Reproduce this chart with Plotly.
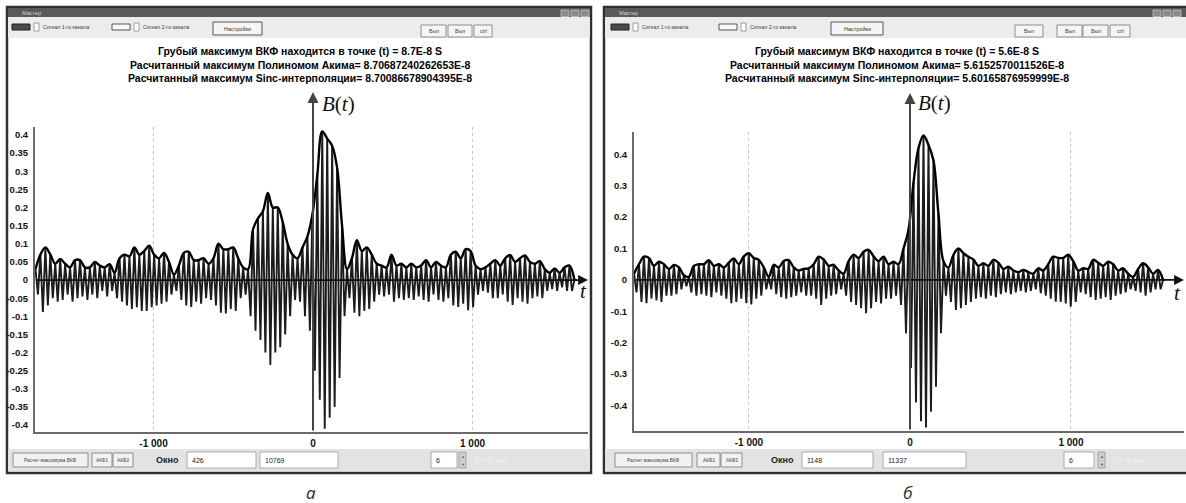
import numpy as np
import plotly.graph_objects as go

W, H = 1186, 503


def X(px):
    return px / W


def Y(py):
    return 1 - py / H


# ---------------- data ----------------
# panel a: carrier peaks, one positive and one negative per cycle
a_t0 = -1740
a_step = 31
a_pos = [0.03, 0.07, 0.09, 0.07, 0.045, 0.058, 0.045, 0.035, 0.055, 0.055,
         0.035, 0.035, 0.05, 0.04, 0.035, 0.044, 0.02, 0.06, 0.07, 0.065,
         0.09, 0.07, 0.08, 0.095, 0.07, 0.06, 0.075, 0.05, 0.015, 0.04,
         0.075, 0.078, 0.055, 0.055, 0.06, 0.045, 0.06, 0.1, 0.085, 0.085,
         0.09, 0.06, 0.035, 0.03, 0.14, 0.17, 0.19, 0.24, 0.2, 0.2,
         0.16, 0.1, 0.07, 0.06, 0.09, 0.12, 0.18, 0.29, 0.41, 0.39,
         0.37, 0.31, 0.15, 0.03, 0.06, 0.11, 0.08, 0.09, 0.07, 0.045,
         0.04, 0.035, 0.07, 0.04, 0.045, 0.035, 0.045, 0.035, 0.04, 0.055,
         0.035, 0.05, 0.04, 0.035, 0.07, 0.078, 0.06, 0.085, 0.08, 0.04,
         0.03, 0.035, 0.045, 0.055, 0.04, 0.06, 0.069, 0.05, 0.06, 0.068,
         0.05, 0.045, 0.052, 0.03, 0.02, 0.032, 0.02, 0.035, 0.04, 0.0]
a_neg = [-0.04, -0.088, -0.07, -0.05, -0.06, -0.055, -0.04, -0.06, -0.05, -0.045,
         -0.055, -0.04, -0.05, -0.03, -0.045, -0.03, -0.05, -0.06, -0.07, -0.08,
         -0.075, -0.085, -0.085, -0.075, -0.07, -0.065, -0.06, -0.04, -0.03, -0.055,
         -0.07, -0.074, -0.06, -0.065, -0.05, -0.055, -0.07, -0.09, -0.092, -0.08,
         -0.085, -0.05, -0.04, -0.1, -0.14, -0.165, -0.2, -0.234, -0.2, -0.185,
         -0.15, -0.1, -0.055, -0.06, -0.1, -0.14, -0.25, -0.33, -0.41, -0.38,
         -0.35, -0.27, -0.1, -0.05, -0.09, -0.1, -0.085, -0.08, -0.06, -0.04,
         -0.045, -0.04, -0.06, -0.05, -0.055, -0.05, -0.055, -0.045, -0.055, -0.06,
         -0.04, -0.055, -0.06, -0.05, -0.07, -0.074, -0.065, -0.083, -0.075, -0.04,
         -0.03, -0.035, -0.05, -0.05, -0.04, -0.06, -0.069, -0.05, -0.06, -0.065,
         -0.05, -0.045, -0.05, -0.03, -0.025, -0.03, -0.02, -0.03, -0.03, 0.0]

# panel b
b_t0 = -1714
b_step = 31
b_pos = [0.02, 0.05, 0.074, 0.07, 0.045, 0.058, 0.05, 0.035, 0.048, 0.04,
         0.015, 0.01, 0.045, 0.05, 0.05, 0.063, 0.045, 0.05, 0.04, 0.055,
         0.068, 0.05, 0.075, 0.085, 0.07, 0.064, 0.04, 0.01, 0.048, 0.04,
         0.06, 0.063, 0.04, 0.03, 0.035, 0.037, 0.05, 0.074, 0.065, 0.045,
         0.048, 0.03, 0.02, 0.06, 0.08, 0.07, 0.09, 0.096, 0.075, 0.06,
         0.074, 0.05, 0.058, 0.05, 0.1, 0.16, 0.31, 0.42, 0.46, 0.43,
         0.38, 0.21, 0.06, 0.04, 0.08, 0.1, 0.085, 0.074, 0.065, 0.045,
         0.053, 0.045, 0.064, 0.055, 0.035, 0.042, 0.03, 0.025, 0.032, 0.025,
         0.02, 0.037, 0.03, 0.05, 0.074, 0.07, 0.07, 0.08, 0.06, 0.03,
         0.037, 0.035, 0.064, 0.055, 0.045, 0.058, 0.05, 0.03, 0.037, 0.02,
         0.01, 0.035, 0.053, 0.04, 0.02, 0.032, 0.0]
b_neg = [-0.04, -0.07, -0.074, -0.06, -0.065, -0.07, -0.05, -0.05, -0.045, -0.03,
         -0.02, -0.04, -0.05, -0.045, -0.05, -0.055, -0.04, -0.05, -0.06, -0.074,
         -0.07, -0.06, -0.074, -0.078, -0.06, -0.05, -0.03, -0.03, -0.045, -0.055,
         -0.06, -0.055, -0.05, -0.04, -0.05, -0.05, -0.06, -0.08, -0.06, -0.05,
         -0.045, -0.03, -0.05, -0.07, -0.08, -0.09, -0.106, -0.09, -0.07, -0.075,
         -0.06, -0.06, -0.05, -0.08, -0.17, -0.28, -0.39, -0.45, -0.47, -0.42,
         -0.34, -0.17, -0.05, -0.07, -0.096, -0.09, -0.08, -0.07, -0.06, -0.055,
         -0.06, -0.05, -0.055, -0.045, -0.04, -0.045, -0.04, -0.035, -0.04, -0.035,
         -0.03, -0.042, -0.05, -0.06, -0.069, -0.07, -0.075, -0.085, -0.07, -0.04,
         -0.045, -0.055, -0.064, -0.06, -0.055, -0.064, -0.05, -0.045, -0.04, -0.03,
         -0.035, -0.04, -0.05, -0.04, -0.03, -0.03, 0.0]

x_tickvals = [-1000, 0, 1000]
x_ticktext = ["-1 000", "0", "1 000"]
a_ytickvals = [0.4, 0.35, 0.3, 0.25, 0.2, 0.15, 0.1, 0.05, 0, -0.05, -0.1,
               -0.15, -0.2, -0.25, -0.3, -0.35, -0.4]
a_yticktext = ["0.4", "0.35", "0.3", "0.25", "0.2", "0.15", "0.1", "0.05", "0",
               "-0.05", "-0.1", "-0.15", "-0.2", "-0.25", "-0.3", "-0.35", "-0.4"]
b_ytickvals = [0.4, 0.3, 0.2, 0.1, 0, -0.1, -0.2, -0.3, -0.4]
b_yticktext = ["0.4", "0.3", "0.2", "0.1", "0", "-0.1", "-0.2", "-0.3", "-0.4"]

a_header = ["Грубый максимум ВКФ находится в точке (t) = 8.7E-8 S",
            "Расчитанный максимум Полиномом Акима= 8.70687240262653E-8",
            "Расчитанный максимум Sinc-интерполяции= 8.70086678904395E-8"]
b_header = ["Грубый максимум ВКФ находится в точке (t) = 5.6E-8 S",
            "Расчитанный максимум Полиномом Акима= 5.6152570011526E-8",
            "Расчитанный максимум Sinc-интерполяции= 5.60165876959999E-8"]
a_fields = ["426", "10769", "6"]
b_fields = ["1148", "11337", "6"]

# ---------------- figure ----------------
fig = go.Figure()
UI = "Liberation Sans"
SERIF = "Liberation Serif"


def add_signal(t0, step, pos, neg, xa, ya):
    n = len(pos)
    t = t0 + step * np.arange(n)
    xs = np.empty(2 * n)
    ys = np.empty(2 * n)
    xs[0::2] = t
    xs[1::2] = t + step / 2
    ys[0::2] = pos
    ys[1::2] = neg
    fig.add_trace(go.Scatter(x=xs, y=ys, mode="lines",
                             line=dict(color="#1c1c1c", width=1.9),
                             xaxis=xa, yaxis=ya, hoverinfo="skip",
                             showlegend=False))
    fig.add_trace(go.Scatter(x=t, y=pos, mode="lines",
                             line=dict(color="#000000", width=2.4,
                                       shape="spline", smoothing=1.0),
                             xaxis=xa, yaxis=ya, hoverinfo="skip",
                             showlegend=False))


add_signal(a_t0, a_step, a_pos, a_neg, "x", "y")
add_signal(b_t0, b_step, b_pos, b_neg, "x2", "y2")

shapes = []
ann = []


def rect(x0, y0, x1, y1, fill, line="#777", lw=1):
    shapes.append(dict(type="rect", xref="paper", yref="paper",
                       x0=X(x0), x1=X(x1), y0=Y(y1), y1=Y(y0),
                       fillcolor=fill, line=dict(color=line, width=lw),
                       layer="below"))


def text(px, py, s, size=6, color="#333", anchor="left", bold=False,
         family=UI):
    ann.append(dict(xref="paper", yref="paper", x=X(px), y=Y(py), text=s,
                    showarrow=False, xanchor=anchor, yanchor="middle",
                    font=dict(size=size, color=color, family=family,
                              weight="bold" if bold else "normal")))


def window(x0, x1, c):
    # outer frame
    rect(x0, 7, x1, 473, "#ffffff", "#2f2f2f", 2.5)
    rect(x0 + 1, 8, x1 - 1, 17, "#595959", "#595959", 0)
    text(x0 + 13, 12.5, "Мастер", 5.5, "#d8d8d8")
    for i in range(3):
        bx = c["ctl"] + i * 10
        rect(bx, 10, bx + 8, 16.5, "#8a8a8a", "#c8c8c8", 0.8)
    rect(x0 + 1, 17, x1 - 1, 38, "#ececec", "#ececec", 0)
    # channel legend
    s1, s2 = c["sw1"], c["sw2"]
    rect(s1, 24, s1 + 18, 30, "#4a4a4a", "#222", 1)
    rect(s1 + 22, 23, s1 + 27, 31, "#ffffff", "#888", 0.8)
    text(s1 + 29, 27, "Сигнал 1-го канала", 5.2, "#444")
    rect(s2, 24, s2 + 18, 30, "#f8f8f8", "#555", 1)
    rect(s2 + 22, 23, s2 + 27, 31, "#ffffff", "#888", 0.8)
    text(s2 + 29, 27, "Сигнал 2-го канала", 5.2, "#444")
    nb = c["nastr"]
    rect(nb[0], 22, nb[1], 35, "#f5f5f5", "#555", 1)
    text((nb[0] + nb[1]) / 2, 28.5, "Настройки", 5.5, "#333", "center")
    for (bx0, bx1, lab) in c["rbtn"]:
        rect(bx0, 25, bx1, 37, "#f5f5f5", "#777", 0.8)
        text((bx0 + bx1) / 2, 31, lab, 5.2, "#444", "center")
    # bottom bar
    rect(x0 + 1, 449, x1 - 1, 471, "#e3e3e3", "#e3e3e3", 0)
    for (bx0, bx1, lab) in c["bbtn"]:
        rect(bx0, 453, bx1, 467, "#f2f2f2", "#777", 0.8)
        text((bx0 + bx1) / 2, 460, lab, 4.8, "#444", "center")
    text(c["okno"], 460, "Окно", 9, "#222", "center", True)
    for (bx0, bx1, val) in c["fields"]:
        rect(bx0, 452, bx1, 468, "#ffffff", "#9a9a9a", 0.8)
        text(bx0 + 3, 460, val, 7, "#222")
    ar = c["arrows"]
    rect(ar, 452, ar + 7, 468, "#cfcfcf", "#999", 0.8)
    text(ar + 3.5, 456, "▲", 4, "#555", "center")
    text(ar + 3.5, 464, "▼", 4, "#555", "center")
    text(ar + 13, 460, "10^-9, сек", 7, "#f3f3f3")
    # header lines
    for i, s in enumerate(c["header"]):
        text(c["hc"], 51 + 13.5 * i, s, 10.5, "#000", "center", True)


window(7, 591, dict(ctl=561, sw1=12, sw2=112, nastr=(213, 262),
                    rbtn=[(421, 446, "Вып"), (448, 472, "Вып"),
                          (474, 492, "ctrl")],
                    bbtn=[(13, 88, "Расчет максимума ВКФ"),
                          (92, 112, "АКФ1"), (113, 133, "АКФ2")],
                    okno=167,
                    fields=[(187, 256, a_fields[0]), (260, 338, a_fields[1]),
                            (431, 457, a_fields[2])],
                    arrows=459, header=a_header, hc=300))
window(604, 1192, dict(ctl=1153, sw1=611, sw2=719, nastr=(831, 883),
                       rbtn=[(1015, 1043, "Вып"), (1057, 1082, "Вып"),
                             (1083, 1108, "Вып"), (1110, 1130, "ctrl")],
                       bbtn=[(615, 692, "Расчет максимума ВКФ"),
                             (697, 720, "АКФ1"), (721, 742, "АКФ2")],
                       okno=782,
                       fields=[(802, 873, b_fields[0]),
                               (883, 966, b_fields[1]),
                               (1064, 1094, b_fields[2])],
                       arrows=1098, header=b_header, hc=897))

# axis arrows and labels
arrow_specs = [("x", "y", -1743, 1724, 313, 92, 340, 320, 104, 583, 291),
               ("x2", "y2", -1714, 1702, 910, 93, 338, 916, 103, 1177, 293)]
for (xa, ya, xmin, xmax, vx, vtop, vlen, bx, by, tx, ty) in arrow_specs:
    ann.append(dict(xref=xa, yref=ya, x=xmax, y=0, axref=xa, ayref=ya,
                    ax=xmin, ay=0, text="", showarrow=True, arrowhead=2,
                    arrowsize=1.1, arrowwidth=1.8, arrowcolor="#111"))
    ann.append(dict(xref="paper", yref="paper", x=X(vx), y=Y(vtop),
                    ax=0, ay=vlen, text="", showarrow=True, arrowhead=2,
                    arrowsize=1.1, arrowwidth=2, arrowcolor="#444"))
    ann.append(dict(xref="paper", yref="paper", x=X(bx), y=Y(by),
                    text="<i>B</i>(<i>t</i>)", showarrow=False,
                    xanchor="left", yanchor="middle",
                    font=dict(family=SERIF, size=21, color="#111")))
    ann.append(dict(xref="paper", yref="paper", x=X(tx), y=Y(ty),
                    text="<i>t</i>", showarrow=False, xanchor="center",
                    yanchor="middle",
                    font=dict(family=SERIF, size=21, color="#111")))

# captions
text(311, 492, "<i>а</i>", 17, "#333", "center", family="Noto Sans")
text(908, 492, "<i>б</i>", 17, "#333", "center", family="Noto Sans")

tick_font = dict(family=UI, size=10, color="#111", weight="bold")
xcommon = dict(tickvals=x_tickvals, ticktext=x_ticktext, showline=True,
               linecolor="#6a6a6a", linewidth=2, showgrid=True,
               gridcolor="#c4c4c4", griddash="dot", gridwidth=1,
               zeroline=False, ticks="", tickfont=tick_font,
               ticklabelstandoff=1, fixedrange=True)
ycommon = dict(showline=True, linecolor="#6a6a6a", linewidth=2,
               showgrid=False, zeroline=False, ticks="",
               tickfont=dict(family=UI, size=9.5, color="#111",
                             weight="bold"),
               ticklabelstandoff=3, fixedrange=True)

fig.update_layout(
    width=W, height=H, margin=dict(l=0, r=0, t=0, b=0),
    paper_bgcolor="#ffffff", plot_bgcolor="rgba(0,0,0,0)",
    showlegend=False,
    xaxis=dict(domain=[X(35), X(588)], range=[-1743, 1724], anchor="y",
               **xcommon),
    yaxis=dict(domain=[Y(432), Y(127)], range=[-0.419, 0.422], anchor="x",
               tickvals=a_ytickvals, ticktext=a_yticktext, **ycommon),
    xaxis2=dict(domain=[X(634), X(1184)], range=[-1714, 1702], anchor="y2",
                **xcommon),
    yaxis2=dict(domain=[Y(431), Y(132)], range=[-0.481, 0.471],
                anchor="x2", tickvals=b_ytickvals, ticktext=b_yticktext,
                **ycommon),
    shapes=shapes, annotations=ann,
)

fig.write_html("out.html", config={"displayModeBar": False},
               post_script="document.body.style.margin='0';"
                           "document.body.style.overflow='hidden';")
